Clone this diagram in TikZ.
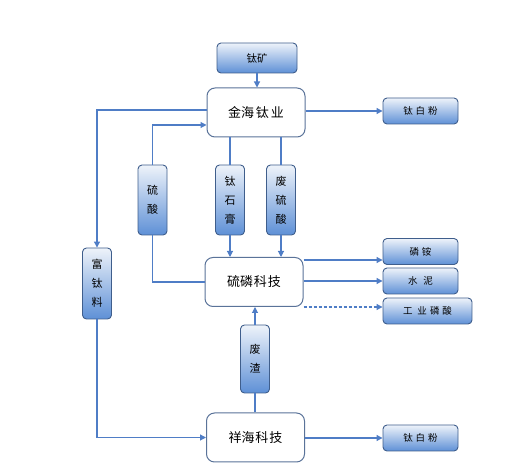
\documentclass[tikz,border=0pt]{standalone}
\usepackage{fontspec}
\setmainfont{Noto Sans CJK SC}
\usetikzlibrary{arrows.meta}
\definecolor{lineblue}{HTML}{4F7DC6}
\definecolor{mainborder}{HTML}{5A7399}
\definecolor{boxborder}{HTML}{3F5E8C}
\definecolor{shadetop}{HTML}{EEF3FA}
\definecolor{shadebot}{HTML}{5E90D6}
\begin{document}
\begin{tikzpicture}[x=1pt,y=-1pt,
  mainbox/.style={draw=mainborder, line width=1pt, rounded corners=8pt, fill=white,
    minimum width=98pt, minimum height=49pt, inner sep=0pt,
    font=\fontsize{13}{13}\selectfont},
  hbox/.style={draw=boxborder, line width=0.9pt, rounded corners=4pt,
    top color=shadetop, bottom color=shadebot,
    minimum width=75pt, minimum height=26pt, inner sep=0pt,
    font=\fontsize{9.5}{10}\selectfont},
  vbox/.style={draw=boxborder, line width=0.9pt, rounded corners=4pt,
    top color=shadetop, bottom color=shadebot,
    minimum width=29pt, minimum height=70pt, inner sep=0pt, align=center,
    font=\fontsize{11}{19}\selectfont},
  conn/.style={draw=lineblue, line width=1.1pt},
  arr/.style={conn, -{Triangle[length=6pt,width=6pt]}}
]
\useasboundingbox (0,0) rectangle (523,473);

\node[hbox, minimum width=80pt, minimum height=30pt, font=\fontsize{10.5}{11}\selectfont] (tk) at (257,58) {钛矿};
\node[mainbox] (jh) at (256,112.5) {金海\hspace{2pt}钛\hspace{2pt}业};
\node[hbox] (tbf1) at (420.5,111) {钛\hspace{3pt}白\hspace{3pt}粉};

\node[vbox] (ls) at (152.5,200) {硫\\酸};
\node[vbox] (tsg) at (230,200) {钛\\石\\膏};
\node[vbox] (fls) at (281,200) {废\\硫\\酸};
\node[vbox, minimum height=71pt] (ftl) at (97,283.5) {富\\钛\\料};

\node[mainbox] (sl) at (254,282) {硫磷\hspace{1pt}科\hspace{1pt}技};
\node[hbox] (la) at (420.5,251.5) {磷\hspace{3pt}铵};
\node[hbox] (sn) at (420.5,281) {水\hspace{6pt}泥};
\node[hbox, minimum width=89pt] (gy) at (427.5,311) {工\hspace{5pt}业\hspace{3pt}磷\hspace{3pt}酸};

\node[vbox, minimum height=68pt] (fz) at (255,359) {废\\渣};
\node[mainbox] (xh) at (255.5,437.5) {祥海\hspace{1pt}科\hspace{1pt}技};
\node[hbox] (tbf2) at (420.5,438) {钛\hspace{3pt}白\hspace{3pt}粉};

% connectors
\draw[arr] (tk.south) -- (tk.south |- jh.north);
\draw[arr] (jh.east |- tbf1.west) -- (tbf1.west);
\draw[arr] ([yshift=2.5pt]jh.west) -| (ftl.north);
\draw[arr] (ls.north) |- ([yshift=-12.5pt]jh.west);
\draw[conn] (sl.west) -| (ls.south);
\draw[conn] (jh.south -| tsg.north) -- (tsg.north);
\draw[arr] (tsg.south) -- (tsg.south |- sl.north);
\draw[conn] (jh.south -| fls.north) -- (fls.north);
\draw[arr] (fls.south) -- (fls.south |- sl.north);

\draw[arr] ([yshift=22pt]sl.east) -- ([yshift=22pt]sl.east -| la.west);
\draw[arr] (sl.east |- sn.west) -- (sn.west);
\draw[arr, dash pattern=on 3pt off 2pt] ([yshift=-25pt]sl.east) -- ([yshift=-25pt]sl.east -| gy.west);

\draw[arr] (fz.north) -- (fz.north |- sl.south);
\draw[conn] (xh.north -| fz.south) -- (fz.south);
\draw[arr] (ftl.south) |- (xh.west);
\draw[arr] (xh.east |- tbf2.west) -- (tbf2.west);
\end{tikzpicture}
\end{document}
